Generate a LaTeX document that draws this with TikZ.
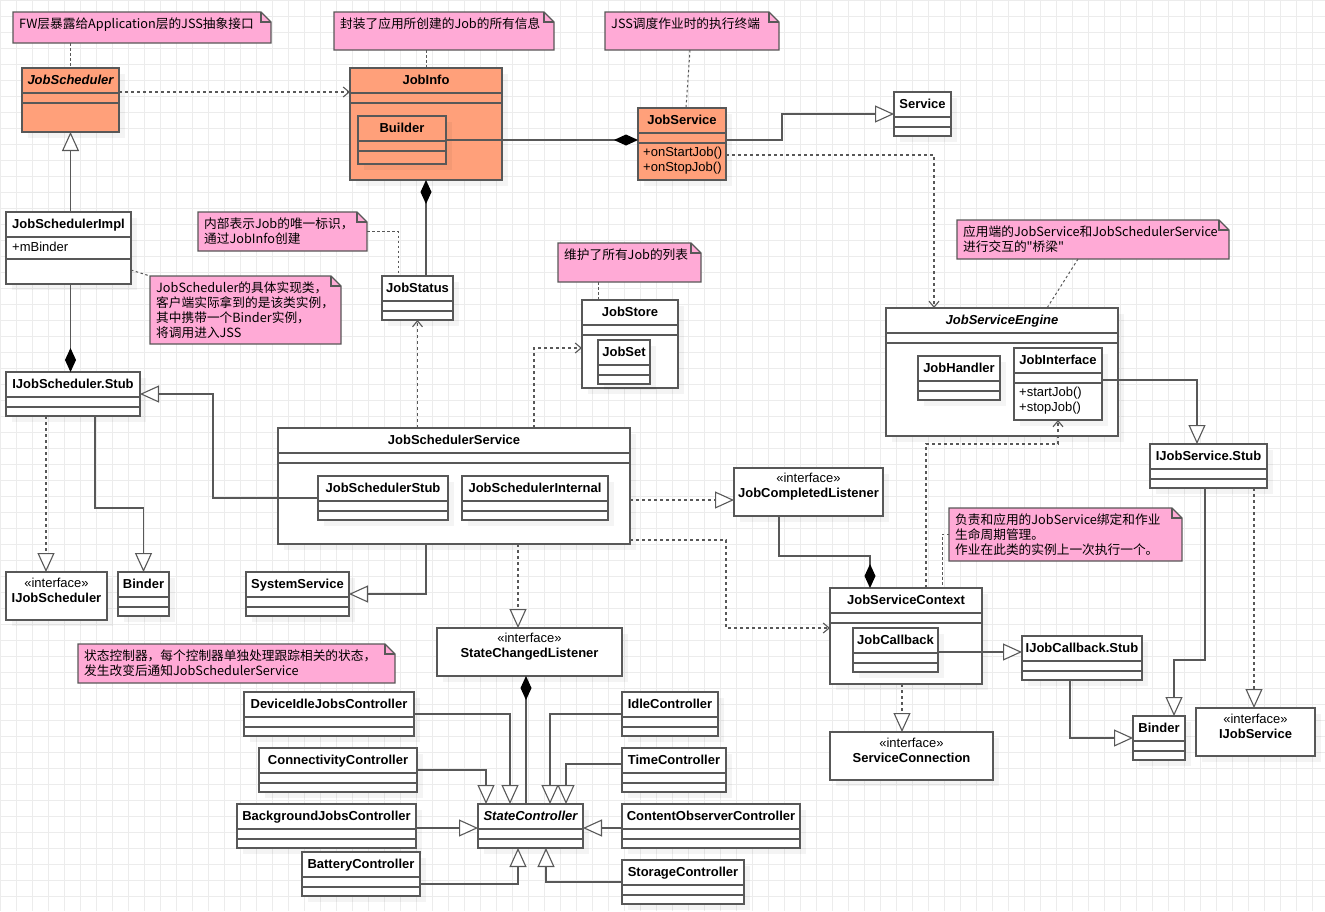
\documentclass[tikz,border=0pt]{standalone}
\usepackage{fontspec}
\setmainfont{Liberation Sans}
\newfontfamily\cjk{Noto Sans CJK SC}
\usepackage{tikz}
\usetikzlibrary{arrows.meta}
\usetikzlibrary{shadows}

\definecolor{umlline}{RGB}{88,88,88}
\definecolor{umlorange}{RGB}{255,160,122}
\definecolor{notepink}{RGB}{255,170,214}
\definecolor{gridgray}{RGB}{236,236,236}

\newcommand{\umlsize}{\fontsize{13}{15}\selectfont}
\newcommand{\notesize}{\fontsize{12.7}{15}\selectfont}

\tikzset{
  umlbox/.style={draw=umlline, line width=1.3pt, fill=white, anchor=north west,
    inner sep=0pt, outer sep=0pt,
    drop shadow={shadow xshift=6pt, shadow yshift=-6pt, fill=black, opacity=0.045}},
  umlsep/.style={draw=umlline, line width=1.3pt},
  umltitle/.style={font=\umlsize\bfseries, inner sep=0pt, text height=9.5pt, text depth=2.5pt},
  ifacetitle/.style={font=\umlsize\bfseries, inner sep=0pt, align=center},
  umltext/.style={font=\umlsize, anchor=north west, inner sep=0pt, align=left},
  notebox/.style={draw=umlline, line width=1.1pt, fill=notepink},
  notetext/.style={font=\cjk\notesize, anchor=north west, inner sep=0pt, align=left},
  notelink/.style={draw=umlline, line width=1pt, dash pattern=on 2.5pt off 2.5pt},
  gen/.style={draw=umlline, line width=1.3pt,
    -{Triangle[fill=white, length=19pt, width=17pt, line width=1.1pt]}},
  real/.style={gen, dash pattern=on 3pt off 3pt},
  dep/.style={draw=umlline, line width=1.3pt, dash pattern=on 3pt off 3pt,
    -{Straight Barb[length=6pt, width=10pt, line width=1.1pt]}},
  comp/.style={draw=umlline, line width=1.3pt,
    -{Diamond[length=24pt, width=11pt, color=black, fill=black]}},
}

% class: [style]{name}{x}{y}{w}{h}{second line}{title}
\newcommand{\umlclass}[8][]{%
  \node[umlbox, #1, minimum width=#5pt, minimum height=#6pt] (#2) at (#3,#4) {};
  \node[umltitle] (#2-t) at ([yshift=-12.5pt]#2.north) {#8};
  \draw[umlsep] ([yshift=-25pt]#2.north west) -- ([yshift=-25pt]#2.north east)
    ([yshift=-#7pt]#2.north west) -- ([yshift=-#7pt]#2.north east);
}
% interface: {name}{x}{y}{w}{h}{title}
\newcommand{\umliface}[6]{%
  \node[umlbox, minimum width=#4pt, minimum height=#5pt] (#1) at (#2,#3) {};
  \node[ifacetitle] (#1-t) at ([yshift=-18.5pt]#1.north) {{\mdseries «interface»}\\#6};
}
% note: {name}{x}{y}{w}{h}{text}
\newcommand{\umlnote}[6]{%
  \node[anchor=north west, inner sep=0pt, outer sep=0pt, minimum width=#4pt, minimum height=#5pt] (#1) at (#2,#3) {};
  \draw[notebox] (#1.north west) -- ([xshift=-10pt]#1.north east) -- ([yshift=-10pt]#1.north east)
    -- (#1.south east) -- (#1.south west) -- cycle;
  \draw[notebox, fill=none] ([xshift=-10pt]#1.north east) -- ([xshift=-10pt, yshift=-10pt]#1.north east)
    -- ([yshift=-10pt]#1.north east);
  \node[notetext] (#1-t) at ([xshift=6pt, yshift=-6pt]#1.north west) {#6};
}

\begin{document}
\begin{tikzpicture}[x=1pt, y=-1pt]
  \useasboundingbox (0,0) rectangle (1325,911);
  \fill[white] (0,0) rectangle (1325,911);
  \draw[gridgray, line width=0.6pt, xstep=16pt, ystep=16pt] (0,0) grid (1325,911);

  % notes
  \umlnote{noteApi}{13}{12}{258}{31}{FW层暴露给Application层的JSS抽象接口}
  \umlnote{noteInfo}{334}{12}{220}{38}{封装了应用所创建的Job的所有信息}
  \umlnote{noteSvc}{605}{12}{174}{38}{JSS调度作业时的执行终端}
  \umlnote{noteStatus}{198}{212}{169}{39}{内部表示Job的唯一标识，\\通过JobInfo创建}
  \umlnote{noteImpl}{150}{276}{191}{68}{JobScheduler的具体实现类，\\客户端实际拿到的是该类实例，\\其中携带一个Binder实例，\\将调用进入JSS}
  \umlnote{noteStore}{558}{243}{143}{39}{维护了所有Job的列表}
  \umlnote{noteEngine}{957}{220}{272}{39}{应用端的JobService和JobSchedulerService\\进行交互的"桥梁"}
  \umlnote{noteCtx}{949}{508}{233}{53}{负责和应用的JobService绑定和作业\\生命周期管理。\\作业在此类的实例上一次执行一个。}
  \umlnote{noteCtl}{78}{644}{317}{39}{状态控制器，每个控制器单独处理跟踪相关的状态，\\发生改变后通知JobSchedulerService}

  % top row
  \umlclass[fill=umlorange]{jobScheduler}{22}{68}{97}{64}{35}{\itshape JobScheduler}
  \umlclass[fill=umlorange]{jobInfo}{350}{68}{152}{112}{35}{JobInfo}
  \umlclass[fill=umlorange]{builder}{358}{116}{88}{48}{35}{Builder}
  \umlclass[fill=umlorange]{jobSvc}{638}{108}{88}{72}{35}{JobService}
  \node[umltext] (jobSvc-m) at ([xshift=5pt, yshift=-39pt]jobSvc.north west) {+onStartJob()\\+onStopJob()};
  \umlclass{service}{894}{92}{57}{44}{35}{Service}

  % JobScheduler side
  \umlclass{jsImpl}{6}{212}{125}{72}{47}{JobSchedulerImpl}
  \node[umltext] (jsImpl-a) at ([xshift=6pt, yshift=-30pt]jsImpl.north west) {+mBinder};
  \umlclass{ijsStub}{6}{372}{134}{44}{35}{IJobScheduler.Stub}
  \umliface{ijsIface}{6}{572}{101}{48}{IJobScheduler}
  \umlclass{binderA}{118}{572}{51}{44}{35}{Binder}
  \umlclass{sysSvc}{246}{572}{103}{44}{35}{SystemService}

  % JobSchedulerService
  \umlclass{jobStatus}{382}{276}{71}{44}{35}{JobStatus}
  \umlclass{jobStore}{582}{300}{96}{88}{35}{JobStore}
  \umlclass{jobSet}{598}{340}{52}{44}{35}{JobSet}
  \umlclass{jss}{278}{428}{352}{116}{35}{JobSchedulerService}
  \umlclass{jsStub}{318}{476}{130}{44}{35}{JobSchedulerStub}
  \umlclass{jsInternal}{462}{476}{146}{44}{35}{JobSchedulerInternal}
  \umliface{jcl}{734}{468}{149}{48}{JobCompletedListener}
  \umliface{scl}{437}{628}{185}{48}{StateChangedListener}

  % JobServiceEngine
  \umlclass{jsEngine}{886}{308}{232}{128}{35}{\itshape JobServiceEngine}
  \umlclass{jobHandler}{918}{356}{82}{44}{35}{JobHandler}
  \umlclass{jobIface}{1014}{348}{88}{72}{35}{JobInterface}
  \node[umltext] (jobIface-m) at ([xshift=5pt, yshift=-39pt]jobIface.north west) {+startJob()\\+stopJob()};
  \umlclass{ijsvcStub}{1150}{444}{117}{44}{35}{IJobService.Stub}

  % JobServiceContext
  \umlclass{jsc}{830}{588}{152}{96}{35}{JobServiceContext}
  \umlclass{jobCb}{853}{628}{85}{44}{35}{JobCallback}
  \umlclass{ijcbStub}{1022}{636}{120}{44}{35}{IJobCallback.Stub}
  \umliface{svcConn}{830}{732}{163}{48}{ServiceConnection}
  \umlclass{binderB}{1133}{716}{52}{44}{35}{Binder}
  \umliface{ijsvc}{1196}{708}{119}{48}{IJobService}

  % controllers
  \umlclass{devIdleCtl}{244}{692}{170}{44}{35}{DeviceIdleJobsController}
  \umlclass{connCtl}{259}{748}{158}{44}{35}{ConnectivityController}
  \umlclass{bgCtl}{237}{804}{179}{44}{35}{BackgroundJobsController}
  \umlclass{batCtl}{302}{852}{118}{44}{35}{BatteryController}
  \umlclass{stateCtl}{478}{804}{105}{44}{35}{\itshape StateController}
  \umlclass{idleCtl}{622}{692}{96}{44}{35}{IdleController}
  \umlclass{timeCtl}{622}{748}{104}{44}{35}{TimeController}
  \umlclass{coCtl}{622}{804}{178}{44}{35}{ContentObserverController}
  \umlclass{stoCtl}{622}{860}{122}{44}{35}{StorageController}

  % note links
  \draw[notelink] (noteApi.south -| jobScheduler.north) -- (jobScheduler.north);
  \draw[notelink] (noteInfo.south -| jobInfo.north) -- (jobInfo.north);
  \draw[notelink] ([xshift=85pt]noteSvc.south west) -- ([xshift=48pt]jobSvc.north west);
  \draw[notelink] (noteStatus.east) -| ([xshift=16pt]jobStatus.north west);
  \draw[notelink] ([yshift=-58pt]jsImpl.north east) -- (noteImpl.north west);
  \draw[notelink] ([xshift=40pt]noteStore.south west) -- ([xshift=40pt]noteStore.south west |- jobStore.north);
  \draw[notelink] ([xshift=121pt]noteEngine.south west) -- ([xshift=161pt]jsEngine.north west);
  \draw[notelink] ([yshift=-26pt]noteCtx.north west) -| ([xshift=112pt]jsc.north west);

  % JobScheduler side
  \draw[dep] ([yshift=-24pt]jobScheduler.north east) -- ([yshift=-24pt]jobInfo.north west);
  \draw[gen] (jobScheduler.south |- jsImpl.north) -- (jobScheduler.south);
  \draw[comp] (jobScheduler.south |- jsImpl.south) -- (jobScheduler.south |- ijsStub.north);
  \draw[real] ([xshift=40pt]ijsStub.south west) -- ([xshift=40pt]ijsStub.south west |- ijsIface.north);
  \draw[gen] ([xshift=89pt]ijsStub.south west) -- ++(0,92) -| (binderA.north);
  \draw[gen] (jsStub.west) -- ++(-105,0) |- (ijsStub.east);
  \draw[gen] ([xshift=148pt]jss.south west) |- (sysSvc.east);

  % JobInfo / JobService
  \draw[comp] (builder.east) -- (builder.east -| jobSvc.west);
  \draw[comp] (jobInfo.south |- jobStatus.north) -- (jobInfo.south);
  \draw[gen] ([yshift=-32pt]jobSvc.north east) -- ++(56,0) |- (service.west);
  \draw[dep] ([yshift=-47pt]jobSvc.north east) -| ([xshift=48pt]jsEngine.north west);

  % JobSchedulerService
  \draw[dep] (jobStatus.south |- jss.north) -- (jobStatus.south);
  \draw[dep] ([xshift=256pt]jss.north west) |- ([yshift=-48pt]jobStore.north west);
  \draw[real] ([yshift=-72pt]jss.north east) -- ([yshift=-72pt]jss.north east -| jcl.west);
  \draw[dep] ([yshift=-112pt]jss.north east) -- ++(96,0) |- ([yshift=-40pt]jsc.north west);
  \draw[real] ([xshift=240pt]jss.south west) -- ([xshift=240pt]jss.south west |- scl.north);

  % JobServiceEngine / JobServiceContext
  \draw[gen] ([yshift=-32pt]jobIface.north east) -| ([xshift=47pt]ijsvcStub.north west);
  \draw[dep] ([xshift=96pt]jsc.north west) |- ([yshift=-24pt]jobIface.south) -- (jobIface.south);
  \draw[comp] ([xshift=45pt]jcl.south west) -- ++(0,40) -| ([xshift=40pt]jsc.north west);
  \draw[gen] ([yshift=-24pt]jobCb.north east) -- ([yshift=-24pt]jobCb.north east -| ijcbStub.west);
  \draw[gen] ([xshift=48pt]ijcbStub.south west) |- (binderB.west);
  \draw[gen] ([xshift=55pt]ijsvcStub.south west) -- ++(0,172) -| ([xshift=41pt]binderB.north west);
  \draw[real] ([xshift=104pt]ijsvcStub.south west) -- ([xshift=104pt]ijsvcStub.south west |- ijsvc.north);
  \draw[real] ([xshift=72pt]jsc.south west) -- ([xshift=72pt]jsc.south west |- svcConn.north);

  % controllers
  \draw[comp] ([xshift=48pt]stateCtl.north west) -- ([xshift=48pt]stateCtl.north west |- scl.south);
  \draw[gen] (devIdleCtl.east) -| ([xshift=32pt]stateCtl.north west);
  \draw[gen] (connCtl.east) -| ([xshift=8pt]stateCtl.north west);
  \draw[gen] ([yshift=-24pt]bgCtl.north east) -- ([yshift=-24pt]bgCtl.north east -| stateCtl.west);
  \draw[gen] ([yshift=-32pt]batCtl.north east) -| ([xshift=40pt]stateCtl.south west);
  \draw[gen] (idleCtl.west) -| ([xshift=72pt]stateCtl.north west);
  \draw[gen] ([yshift=-16pt]timeCtl.north west) -| ([xshift=88pt]stateCtl.north west);
  \draw[gen] ([yshift=-24pt]coCtl.north west) -- ([yshift=-24pt]coCtl.north west -| stateCtl.east);
  \draw[gen] ([yshift=-22pt]stoCtl.north west) -| ([xshift=68pt]stateCtl.south west);
\end{tikzpicture}
\end{document}
